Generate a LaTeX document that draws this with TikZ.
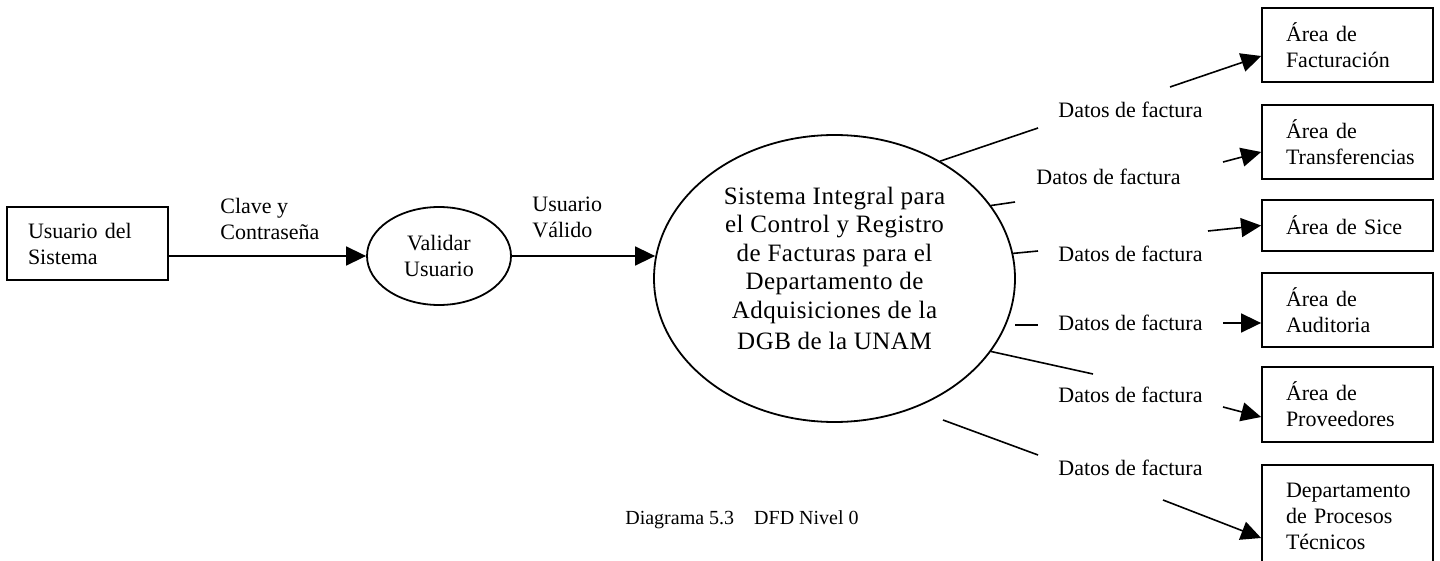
\documentclass[tikz,border=0pt]{standalone}
\usepackage{fontspec}
\setmainfont{Liberation Serif}
\newfontfamily\bigfont[LetterSpace=2.0]{Liberation Serif}
\usetikzlibrary{arrows.meta,shapes.geometric,calc}
\begin{document}
\begin{tikzpicture}[x=0.5pt,y=-0.5pt,
  every node/.style={font=\fontsize{11pt}{13pt}\selectfont},
  lbl/.style={inner sep=0pt, align=left},
  entity/.style={draw, line width=0.9pt, rectangle, inner xsep=12pt, inner ysep=0pt,
    text width=61.5pt, align=left, minimum height=37pt},
  flow/.style={line width=0.8pt},
  arr/.style={line width=0.8pt, -{Triangle[length=10pt,width=9.5pt]}},
  proc/.style={draw, ellipse, line width=0.9pt, inner sep=0pt, align=center}]
\useasboundingbox (0,0) rectangle (1440,561);

% external entity and processes
\node[entity, text width=59.5pt, inner xsep=10.5pt, minimum height=36.5pt] (usr) at (87.5,243.5) {Usuario del\\Sistema};
\node[proc, minimum width=72pt, minimum height=49pt] (val) at (439,256) {Validar\\Usuario};
\node[proc, minimum width=180.5pt, minimum height=143.5pt,
      font=\bigfont\fontsize{12.5pt}{14.25pt}\selectfont, text depth=10pt] (sis) at (834.5,278.5)
  {Sistema Integral para\\el Control y Registro\\de Facturas para el\\Departamento de\\Adquisiciones de la\\[1.5pt]DGB de la UNAM};

% right entities
\node[entity] (fac) at (1347.5,45) {Área de\\Facturación};
\node[entity] (tra) at (1347.5,142) {Área de\\Transferencias};
\node[entity, minimum height=25.5pt] (sic) at (1347.5,225.5) {Área de Sice};
\node[entity] (aud) at (1347.5,310) {Área de\\Auditoria};
\node[entity, minimum height=37.5pt] (pro) at (1347.5,404.5) {Área de\\Proveedores};
\node[entity, minimum height=51pt] (dep) at (1347.5,516) {Departamento\\de Procesos\\Técnicos};

% left flows
\draw[arr] (usr.east |- val.west) -- (val.west);
\node[lbl, anchor=north west] (lclave) at (220,198) {Clave y\\Contraseña};
\draw[arr] (val.east) -- ([xshift=1pt]val.east -| sis.west);
\node[lbl, anchor=north west] (lvalido) at (532,197) {Usuario\\Válido};

% right flows
\coordinate (a1) at (1038,128); \coordinate (b1) at (1170,87);
\coordinate (a2) at (1015,202); \coordinate (b2) at (1223,162);
\coordinate (a3) at (1038,251); \coordinate (b3) at (1208,231);
\coordinate (s4) at (1015,325); \coordinate (a4) at (1038,325); \coordinate (b4) at (1223,323);
\coordinate (a5) at (1093,374); \coordinate (b5) at (1223,407);
\coordinate (s6) at (943,420); \coordinate (a6) at (1038,455); \coordinate (b6) at (1163,500);

\draw[flow] (sis.48.3) -- (a1);
\draw[arr] (b1) -- ([yshift=-5.5pt]fac.west);
\node[lbl, anchor=base west] (l1) at (1058,118) {Datos de factura};

\draw[flow] (sis.25) -- (a2);
\draw[arr] (b2) -- ([yshift=-5pt]tra.west);
\node[lbl, anchor=base west] (l2) at (1036,185) {Datos de factura};

\draw[flow] (sis.8.1) -- (a3);
\draw[arr] (b3) -- (sic.west);
\node[lbl, anchor=base west] (l3) at (1058,262) {Datos de factura};

\draw[flow] (s4) -- (a4);
\draw[arr] (b4) -- ([yshift=-6.5pt]aud.west);
\node[lbl, anchor=base west] (l4) at (1058,330) {Datos de factura};

\draw[flow] (sis.-25) -- (a5);
\draw[arr] (b5) -- ([yshift=-6.25pt]pro.west);
\node[lbl, anchor=base west] (l5) at (1058,402) {Datos de factura};

\draw[flow] (s6) -- (a6);
\draw[arr] (b6) -- ([yshift=-11pt]dep.west);
\node[lbl, anchor=base west] (l6) at (1058,475) {Datos de factura};

% caption
\node[lbl, anchor=base, font=\fontsize{10pt}{12pt}\selectfont] (cap) at (742,524) {Diagrama 5.3\hspace{10pt}DFD Nivel 0};
\end{tikzpicture}
\end{document}
